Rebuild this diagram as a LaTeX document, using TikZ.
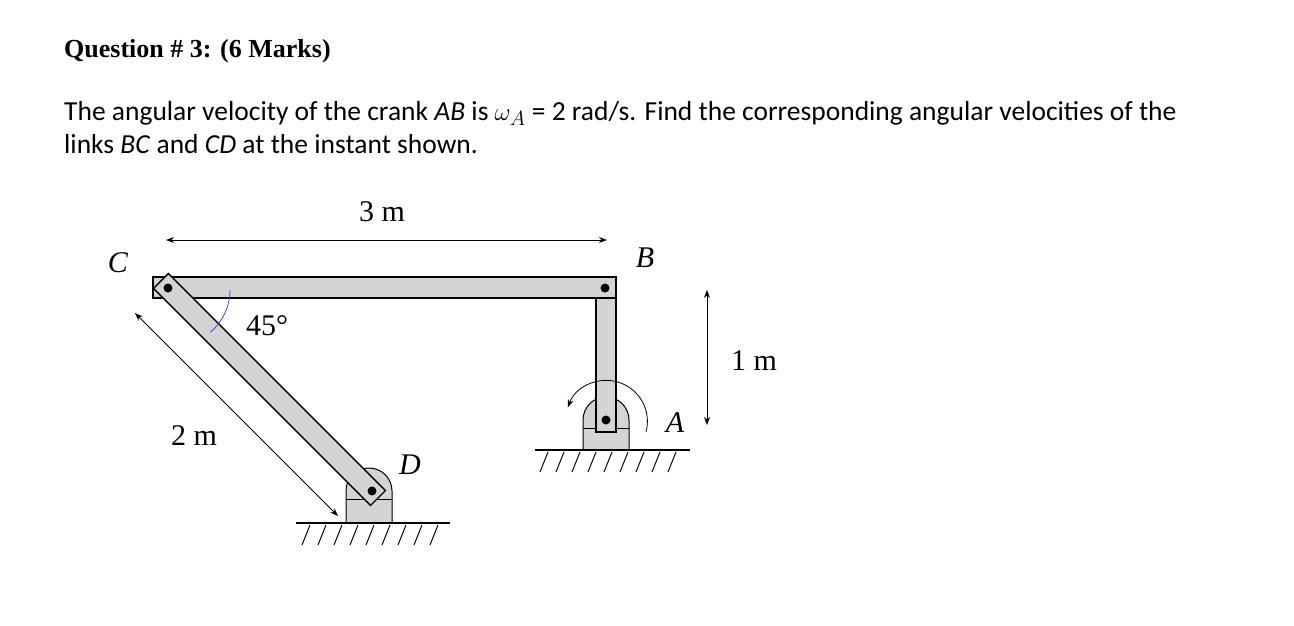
\documentclass[tikz,border=0pt]{standalone}
\usepackage{fontspec}
\setmainfont{Liberation Serif}
\newfontfamily\calib{Carlito}
\usetikzlibrary{arrows.meta}
\begin{document}
\begin{tikzpicture}[x=1pt,y=-1pt,
  barfill/.style={fill=black!17,draw=black,line width=1.3pt},
  pin/.style={fill=black,circle,inner sep=0pt,minimum size=9pt},
  dimarr/.style={{Stealth[length=8pt,width=6pt]}-{Stealth[length=8pt,width=6pt]},line width=0.9pt},
  lbl/.style={font=\fontsize{30}{33}\selectfont},
  gnd/.style={line width=1.5pt}]
\useasboundingbox (0,0) rectangle (1294,625);
\fill[white] (0,0) rectangle (1294,625);
% text
\node[anchor=base west,font=\fontsize{26}{30}\selectfont\bfseries,inner sep=0pt] (title) at (64,57) {Question \# 3: (6 Marks)};
\node[anchor=base west,font=\calib\fontsize{27.5}{30}\selectfont,inner sep=0pt] (l1) at (64,120) {The angular velocity of the crank \textit{AB} is $\omega_A$ = 2 rad/s. Find the corresponding angular velocities of the};
\node[anchor=base west,font=\calib\fontsize{27.5}{30}\selectfont,inner sep=0pt] (l2) at (64,153) {links \textit{BC} and \textit{CD} at the instant shown.};
% supports
\coordinate (A) at (606,420);
\coordinate (D) at (369,491);
\draw[barfill,line width=1pt] (583,450) -- (583,420) arc[start angle=180,end angle=360,radius=23] -- (629,450) -- cycle;
\draw[line width=1pt] (583,428) -- (629,428);
\draw[barfill,line width=1pt] (346,523) -- (346,491) arc[start angle=180,end angle=360,radius=23] -- (392,523) -- cycle;
\draw[line width=1pt] (346,499) -- (392,499);
% grounds
\draw[gnd] (535,450) -- (690,450);
\foreach \i in {0,...,8} \draw[line width=1pt] (548+16*\i,452) -- (540+16*\i,472);
\draw[gnd] (296,523) -- (450,523);
\foreach \i in {0,...,8} \draw[line width=1pt] (310+16*\i,525) -- (302+16*\i,545);
% bars
\draw[barfill] (596,298) rectangle (616,432);
\draw[barfill] (153,277) rectangle (616,298);
\begin{scope}[shift={(168,288)},rotate=-45]
\draw[barfill] (-10,-10.5) rectangle (297,10.5);
\end{scope}
\coordinate (C) at (168,288);
\coordinate (B) at (605,288);
\node[pin] at (C) {};
\node[pin] at (B) {};
\node[pin] at (A) {};
\node[pin] at (372,491) {};
% angle arc
\draw[blue!60!gray,line width=0.7pt] (230,290) arc[start angle=0,end angle=50,radius=55];
\node[lbl] (a45) at (267,326) {45\textdegree};
% omega arrow
\draw[line width=0.8pt,-{Stealth[length=8pt,width=6pt]}] (646,432) arc[start angle=15,end angle=-160,radius=41];
% dimensions
\coordinate (d1) at (166,240); \coordinate (d2) at (607,240);
\draw[dimarr] (d1) -- (d2);
\node[lbl] (t3) at (382,212) {3 m};
\coordinate (e1) at (707,290); \coordinate (e2) at (707,425);
\draw[dimarr] (e1) -- (e2);
\node[lbl] (t1) at (754,361) {1 m};
\coordinate (f1) at (135,313); \coordinate (f2) at (338,516);
\draw[dimarr] (f1) -- (f2);
\node[lbl] (t2) at (194,436) {2 m};
% point labels
\node[lbl] at (118,263) {\textit{C}};
\node[lbl] at (645,258) {\textit{B}};
\node[lbl] at (675,423) {\textit{A}};
\node[lbl] at (410,465) {\textit{D}};
\end{tikzpicture}
\end{document}
